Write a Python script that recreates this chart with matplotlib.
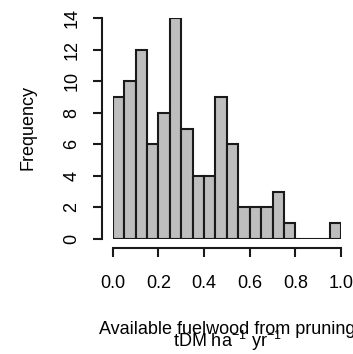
import numpy as np
import matplotlib
matplotlib.use('Agg')
import matplotlib.pyplot as plt

plt.rcParams['font.family'] = ['Liberation Sans', 'DejaVu Sans']
plt.rcParams['mathtext.fontset'] = 'custom'
plt.rcParams['mathtext.rm'] = 'Liberation Sans'
plt.rcParams['mathtext.it'] = 'Liberation Sans'

# histogram counts, bins of 0.05 from 0 to 1
bin_edges = [0.0, 0.05, 0.10, 0.15, 0.20, 0.25, 0.30, 0.35, 0.40, 0.45, 0.50,
             0.55, 0.60, 0.65, 0.70, 0.75, 0.80, 0.85, 0.90, 0.95, 1.0]
counts = [9, 10, 12, 6, 8, 14, 7, 4, 4, 9, 6, 2, 2, 2, 3, 1, 0, 0, 0, 1]
x_ticks = [0.0, 0.2, 0.4, 0.6, 0.8, 1.0]
y_ticks = [0, 2, 4, 6, 8, 10, 12, 14]

W, H = 353, 354
fig = plt.figure(figsize=(W / 100, H / 100), dpi=100)
ax = fig.add_axes([112.7 / W, (H - 239) / H, (341 - 112.7) / W, (239 - 18.3) / H])

lefts = np.array(bin_edges[:-1])
widths = np.diff(bin_edges)
ax.bar(lefts, counts, width=widths, align='edge', color='#bebebe',
       edgecolor='#1a1a1a', linewidth=1.5)

ax.set_xlim(0, 1)
ax.set_ylim(0, 14)
for s in ['top', 'right']:
    ax.spines[s].set_visible(False)
ax.spines['left'].set_position(('outward', 7.6))
ax.spines['bottom'].set_position(('outward', 6.5))
ax.spines['left'].set_bounds(0, 14)
ax.spines['bottom'].set_bounds(0, 1)
for s in ['left', 'bottom']:
    ax.spines[s].set_linewidth(1.5)
    ax.spines[s].set_color('#1a1a1a')

ax.set_xticks(x_ticks)
ax.set_xticklabels(['%.1f' % v for v in x_ticks])
ax.set_yticks(y_ticks)
ax.set_yticklabels([str(v) for v in y_ticks])
ax.tick_params(axis='both', length=6.5, width=1.5, color='#1a1a1a', labelsize=13)
ax.tick_params(axis='x', pad=13)
ax.tick_params(axis='y', pad=9, labelrotation=90)
for lab in ax.get_yticklabels():
    lab.set_va('center')

xc = 227 / W
fig.text(28 / W, 1 - 128 / H, 'Frequency', rotation=90, ha='center', va='center', fontsize=13)
fig.text(xc, 1 - 334 / H, 'Available fuelwood from pruning', ha='center', va='baseline', fontsize=13)
fig.text(xc, 1 - 347 / H, r'tDM ha$^{-1}$ yr$^{-1}$', ha='center', va='baseline', fontsize=13)

fig.savefig('out.png', dpi=100)
